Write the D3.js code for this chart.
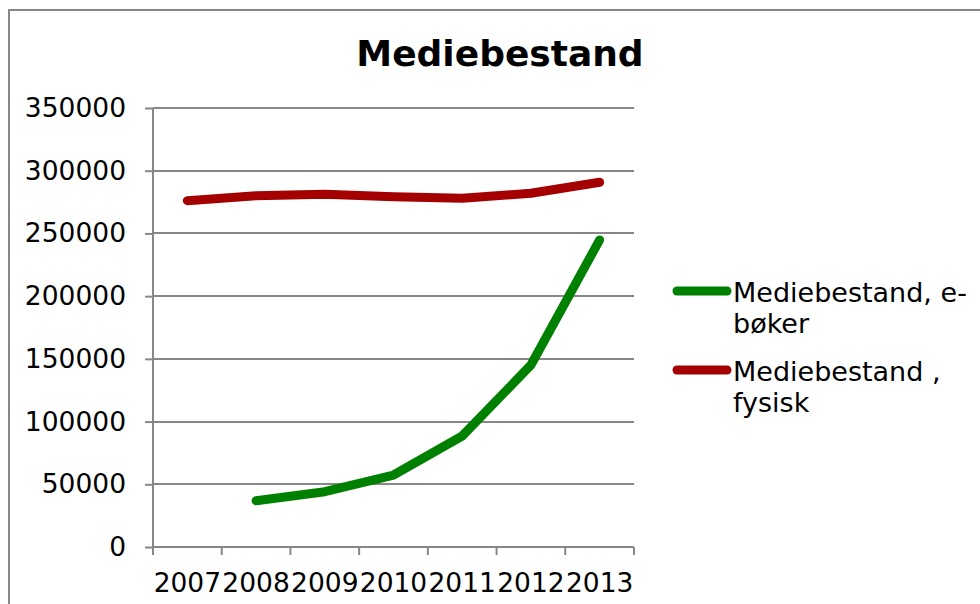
<!DOCTYPE html>
<html>
<head>
<meta charset="utf-8">
<script src="https://cdn.jsdelivr.net/npm/d3@7"></script>
<style>
  html, body { margin: 0; padding: 0; background: #fff; }
  svg { display: block; }
  text { font-family: "DejaVu Sans", Verdana, sans-serif; fill: #000; }
</style>
</head>
<body>
<svg id="chart" width="980" height="604"></svg>
<script>
const categories = ["2007", "2008", "2009", "2010", "2011", "2012", "2013"];
const ebokerValues = [null, 36900, 44100, 57400, 88500, 145100, 244800];
const fysiskValues = [276100, 280100, 281200, 279300, 278000, 282000, 290800];
const yTicks = [0, 50000, 100000, 150000, 200000, 250000, 300000, 350000];
const seriesNames = ["Mediebestand, e-|bøker", "Mediebestand ,|fysisk"];
const seriesColors = ["#008000", "#A50000"];

(function () {
const svg = d3.select("#chart");

// outer border (only top/left visible)
svg.append("rect")
  .attr("x", 9).attr("y", 10)
  .attr("width", 1000).attr("height", 700)
  .attr("fill", "none").attr("stroke", "#878787").attr("stroke-width", 2);

const pLeft = 153, pRight = 634, pTop = 108, pBottom = 547;

const x = d3.scaleBand().domain(categories).range([pLeft, pRight]).padding(0);
const y = d3.scaleLinear().domain([0, 350000]).range([pBottom, pTop]);

// title
svg.append("text")
  .attr("x", 500).attr("y", 66)
  .attr("text-anchor", "middle")
  .style("font-size", "36px").style("font-weight", "bold")
  .text("Mediebestand");

// gridlines
svg.append("g").selectAll("line").data(yTicks.filter(d => d > 0)).join("line")
  .attr("x1", pLeft).attr("x2", pRight)
  .attr("y1", d => Math.round(y(d))).attr("y2", d => Math.round(y(d)))
  .attr("stroke", "#878787").attr("stroke-width", 2);

// y axis
const yAxis = svg.append("g").attr("transform", `translate(${pLeft},0)`)
  .call(d3.axisLeft(y).tickValues(yTicks).tickSize(8).tickPadding(19).tickFormat(d3.format("d")));
yAxis.select(".domain").attr("stroke", "#878787").attr("stroke-width", 2).attr("d", `M0,${pTop}V${pBottom}`);
yAxis.selectAll(".tick line").attr("stroke", "#878787").attr("stroke-width", 2);
yAxis.selectAll(".tick text").style("font-size", "26.5px").style("font-family", "DejaVu Sans, Verdana, sans-serif").attr("fill", "#000");

// x axis
const xAxis = svg.append("g").attr("transform", `translate(0,${pBottom})`)
  .call(d3.axisBottom(x).tickSize(0).tickPadding(26));
xAxis.select(".domain").attr("stroke", "#878787").attr("stroke-width", 2).attr("d", `M${pLeft},0H${pRight}`);
xAxis.selectAll(".tick text").style("font-size", "26.5px").style("font-family", "DejaVu Sans, Verdana, sans-serif").attr("fill", "#000");
const boundaries = categories.map(c => x(c)).concat([x(categories[categories.length - 1]) + x.bandwidth()]);
xAxis.append("g").selectAll("line").data(boundaries).join("line")
  .attr("x1", d => d).attr("x2", d => d).attr("y1", 0).attr("y2", 8)
  .attr("stroke", "#878787").attr("stroke-width", 2);

// lines
const line = d3.line()
  .defined(d => d.v !== null)
  .x(d => x(d.c) + x.bandwidth() / 2)
  .y(d => y(d.v));

[ebokerValues, fysiskValues].forEach((vals, i) => {
  svg.append("path")
    .datum(categories.map((c, j) => ({ c, v: vals[j] })))
    .attr("d", line)
    .attr("fill", "none")
    .attr("stroke", seriesColors[i])
    .attr("stroke-width", 9)
    .attr("stroke-linecap", "round")
    .attr("stroke-linejoin", "round");
});

// legend
const legendY = [291, 370];
seriesNames.forEach((name, i) => {
  const g = svg.append("g");
  g.append("line")
    .attr("x1", 677).attr("x2", 727)
    .attr("y1", legendY[i]).attr("y2", legendY[i])
    .attr("stroke", seriesColors[i]).attr("stroke-width", 9)
    .attr("stroke-linecap", "round");
  const t = g.append("text").attr("x", 733).attr("y", legendY[i] + 11).style("font-size", "27px");
  name.split("|").forEach((part, k) => {
    t.append("tspan").attr("x", 733).attr("dy", k === 0 ? 0 : 31).text(part);
  });
});
})();
</script>
</body>
</html>
